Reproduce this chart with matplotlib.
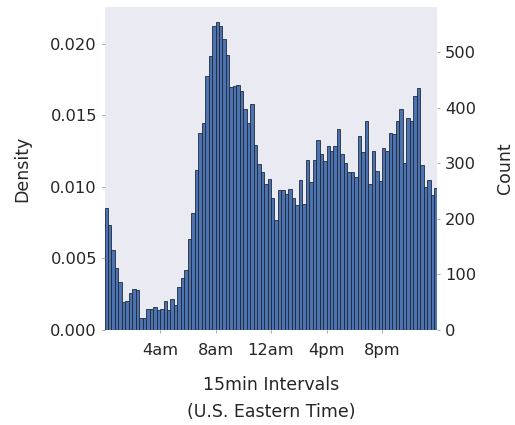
import matplotlib as mpl
mpl.use("Agg")
import matplotlib.pyplot as plt
import numpy as np

mpl.rcParams.update({
    "font.family": "DejaVu Sans",
    "font.size": 11,
    "axes.facecolor": "#eaeaf2",
    "axes.edgecolor": "white",
    "axes.linewidth": 0,
    "xtick.color": "#262626",
    "ytick.color": "#262626",
    "text.color": "#262626",
    "axes.labelcolor": "#262626",
})

# counts per 15-minute bin, starting at midnight (96 bins)
counts = [
    220, 189, 143, 112, 87, 51, 52, 66, 74, 72,
    21, 21, 37, 37, 42, 36, 37, 52, 36, 56,
    45, 78, 93, 108, 164, 210, 288, 355, 372, 457,
    493, 547, 553, 547, 524, 495, 436, 439, 440, 429,
    397, 372, 407, 332, 299, 284, 263, 271, 237, 197,
    252, 251, 245, 254, 238, 225, 269, 227, 306, 266,
    306, 341, 317, 304, 330, 321, 330, 361, 317, 300,
    284, 284, 275, 349, 320, 375, 263, 321, 286, 268,
    327, 321, 354, 352, 376, 397, 300, 382, 375, 420,
    435, 297, 257, 269, 243, 255,
]
tick_bins = [16, 32, 48, 64, 80]
tick_labels = ["4am", "8am", "12am", "4pm", "8pm"]

counts = np.asarray(counts, dtype=float)
total = counts.sum()
density = counts / total
edges = np.arange(len(counts))

fig = plt.figure(figsize=(5.15, 4.25), dpi=100)
ax = fig.add_axes([0.203, 0.2235, 0.6465, 0.760])

ax.bar(edges, density, width=1, align="edge", color="#4c72b0",
       edgecolor="#1f2a3a", linewidth=0.6)
ax.set_xlim(0, len(counts))
ax.set_ylim(0, density.max() * 1.05)
ax.set_xticks(tick_bins)
ax.set_xticklabels(tick_labels)
ax.set_yticks([0, 0.005, 0.010, 0.015, 0.020])
ax.set_yticklabels(["0.000", "0.005", "0.010", "0.015", "0.020"])
ax.tick_params(axis="both", length=2, width=0.6, color="#999999", labelsize=11.7)
ax.tick_params(axis="x", pad=7)
ax.set_ylabel("Density", fontsize=12.5, labelpad=14)
ax.set_xlabel("15min Intervals\n(U.S. Eastern Time)", fontsize=12.5,
              linespacing=1.7, labelpad=13)
for s in ax.spines.values():
    s.set_visible(False)

ax2 = ax.twinx()
lo, hi = ax.get_ylim()
ax2.set_ylim(lo * total, hi * total)
ax2.set_yticks([0, 100, 200, 300, 400, 500])
ax2.tick_params(axis="y", length=2, width=0.6, color="#999999", labelsize=11.7)
ax2.set_ylabel("Count", fontsize=12.5, labelpad=14)
for s in ax2.spines.values():
    s.set_visible(False)

fig.savefig("out.png", dpi=100)
